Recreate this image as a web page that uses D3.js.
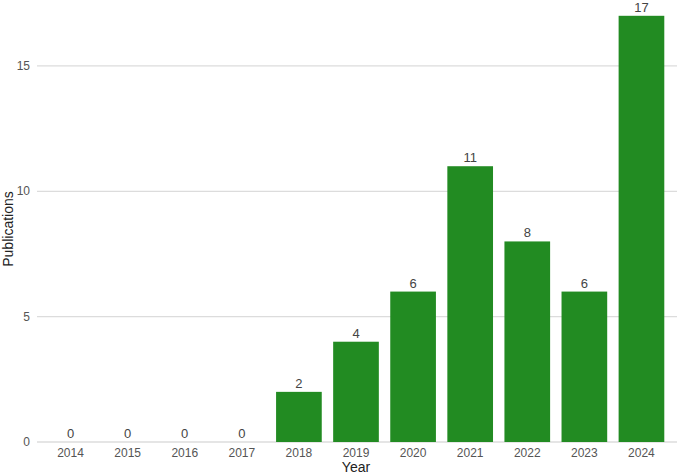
<!DOCTYPE html>
<html>
<head>
<meta charset="utf-8">
<script src="https://cdn.jsdelivr.net/npm/d3@7"></script>
<style>
  body { margin: 0; background: #fff; }
  text { font-family: "Liberation Sans", Arial, sans-serif; }
</style>
</head>
<body>
<div id="chart"></div>
<script>
const years = ["2014", "2015", "2016", "2017", "2018", "2019", "2020", "2021", "2022", "2023", "2024"];
const publications = [0, 0, 0, 0, 2, 4, 6, 11, 8, 6, 17];
const yTicks = [0, 5, 10, 15];

const width = 677;
const height = 474;

const data = years.map((y, i) => ({ year: y, value: publications[i] }));

const svg = d3.select("#chart")
  .append("svg")
  .attr("width", width)
  .attr("height", height);

const xScale = d3.scaleBand()
  .domain(years)
  .range([42, 670])
  .paddingInner(0.2)
  .paddingOuter(0.1);

const yScale = d3.scaleLinear()
  .domain([0, 17])
  .range([442, 15.8]);

// gridlines
svg.append("g")
  .selectAll("line")
  .data(yTicks)
  .enter()
  .append("line")
    .attr("x1", 37)
    .attr("x2", width)
    .attr("y1", d => yScale(d))
    .attr("y2", d => yScale(d))
    .attr("stroke", "#dcdcdc")
    .attr("stroke-width", 1.3);

// y tick labels
svg.append("g")
  .selectAll("text")
  .data(yTicks)
  .enter()
  .append("text")
    .attr("x", 30)
    .attr("y", d => yScale(d) + 4)
    .attr("text-anchor", "end")
    .attr("font-size", 12)
    .attr("fill", "#555")
    .text(d => d);

// bars
svg.append("g")
  .selectAll("rect")
  .data(data)
  .enter()
  .append("rect")
    .attr("x", d => xScale(d.year))
    .attr("y", d => yScale(d.value))
    .attr("width", xScale.bandwidth())
    .attr("height", d => yScale(0) - yScale(d.value))
    .attr("fill", "#228b22");

// value labels
svg.append("g")
  .selectAll("text")
  .data(data)
  .enter()
  .append("text")
    .attr("x", d => xScale(d.year) + xScale.bandwidth() / 2)
    .attr("y", d => yScale(d.value) - 4)
    .attr("text-anchor", "middle")
    .attr("font-size", 13)
    .attr("fill", "#444")
    .text(d => d.value);

// x tick labels
svg.append("g")
  .selectAll("text")
  .data(years)
  .enter()
  .append("text")
    .attr("x", d => xScale(d) + xScale.bandwidth() / 2)
    .attr("y", 457)
    .attr("text-anchor", "middle")
    .attr("font-size", 12)
    .attr("fill", "#555")
    .text(d => d);

// axis titles
svg.append("text")
  .attr("x", 356)
  .attr("y", 472)
  .attr("text-anchor", "middle")
  .attr("font-size", 14)
  .attr("fill", "#222")
  .text("Year");

svg.append("text")
  .attr("transform", "translate(13, 229) rotate(-90)")
  .attr("text-anchor", "middle")
  .attr("font-size", 14)
  .attr("fill", "#222")
  .text("Publications");
</script>
</body>
</html>
